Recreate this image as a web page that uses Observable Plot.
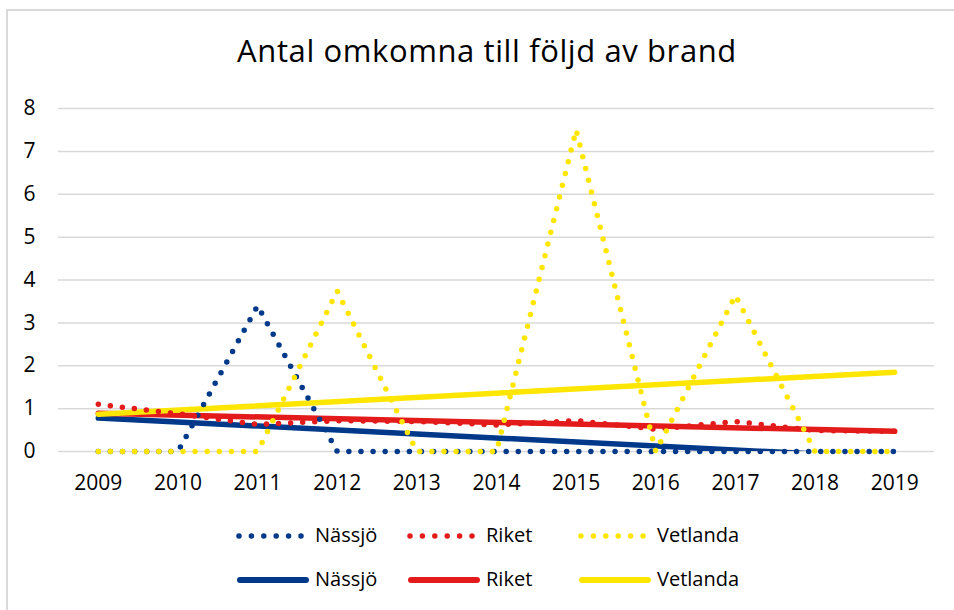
<!DOCTYPE html>
<html>
<head>
<meta charset="utf-8">
<script src="https://cdn.jsdelivr.net/npm/d3@7"></script>
<script src="https://cdn.jsdelivr.net/npm/@observablehq/plot@0.6"></script>
<style>
  html, body { margin: 0; padding: 0; background: #fff; }
  #page { position: relative; width: 954px; height: 610px; overflow: hidden; font-family: "Open Sans", sans-serif; }
  #frame { position: absolute; left: 6px; top: 9px; width: 980px; height: 640px; border: 2px solid #d9d9d9; box-sizing: border-box; }
  #title { position: absolute; left: 487px; top: 35px; transform: translateX(-50%); font-size: 31px; line-height: 1; letter-spacing: 0.6px; white-space: nowrap; color: #000; }
  #chart { position: absolute; left: 0; top: 90px; }
  #legend { position: absolute; left: 0; top: 0; }
</style>
</head>
<body>
<div id="page">
  <div id="frame"></div>
  <div id="title">Antal omkomna till följd av brand</div>
  <div id="chart"></div>
  <svg id="legend" width="954" height="610"></svg>
</div>
<script>
// ---- data ----
const years = [2009, 2010, 2011, 2012, 2013, 2014, 2015, 2016, 2017, 2018, 2019];
const nassjo = [0, 0, 3.4, 0, 0, 0, 0, 0, 0, 0, 0];
const riket = [1.1, 0.88, 0.63, 0.72, 0.7, 0.62, 0.72, 0.52, 0.7, 0.49, 0.47];
const vetlanda = [0, 0, 0, 3.74, 0, 0, 7.5, 0, 3.64, 0, 0];
const trendYears = [2009, 2019];
const nassjoTrend = [0.78, -0.15];
const riketTrend = [0.89, 0.47];
const vetlandaTrend = [0.87, 1.85];
const yTicks = [0, 1, 2, 3, 4, 5, 6, 7, 8];
const seriesNames = ["Nässjö", "Riket", "Vetlanda"];
const colors = ["#00388a", "#e41b1b", "#ffe600"];

const dotted = [nassjo, riket, vetlanda].map((vals, i) =>
  years.map((y, j) => ({ year: y, value: vals[j], series: seriesNames[i] })));
const trends = [nassjoTrend, riketTrend, vetlandaTrend].map((vals, i) =>
  trendYears.map((y, j) => ({ year: y, value: vals[j], series: seriesNames[i] })));

const marks = [
  Plot.gridY(yTicks, { stroke: "#d9d9d9", strokeOpacity: 1, strokeWidth: 1.5 }),
  Plot.axisX(years, { tickSize: 0, tickPadding: 24, tickFormat: d => String(d), fontSize: 21, fill: "#000", label: null }),
  Plot.axisY(yTicks, { tickSize: 0, tickPadding: 23, fontSize: 21, fill: "#000", label: null })
];
trends.forEach((t, i) => marks.push(Plot.line(t, {
  x: "year", y: "value", stroke: colors[i], strokeWidth: 5.5, strokeLinecap: "round", clip: true
})));
dotted.forEach((d, i) => marks.push(Plot.line(d, {
  x: "year", y: "value", stroke: colors[i], strokeWidth: 5.5, strokeDasharray: "0 12.1", strokeLinecap: "round"
})));

const chart = Plot.plot({
  width: 954,
  height: 406,
  marginLeft: 58,
  marginRight: 20,
  marginTop: 18,
  marginBottom: 45,
  x: { domain: [2008.5, 2019.5], label: null },
  y: { domain: [0, 8], label: null },
  style: { fontFamily: "Open Sans, sans-serif", fontSize: "21px", color: "#000", background: "transparent", overflow: "visible" },
  marks
});
document.getElementById("chart").appendChild(chart);

// ---- legend ----
const legend = d3.select("#legend");
const itemX = [239, 410, 581];
const rowY = [536, 580];
seriesNames.forEach((name, i) => {
  const x0 = itemX[i];
  legend.append("line").attr("x1", x0).attr("x2", x0 + 62).attr("y1", rowY[0]).attr("y2", rowY[0])
    .attr("stroke", colors[i]).attr("stroke-width", 5.5).attr("stroke-linecap", "round")
    .attr("stroke-dasharray", "0 12.4");
  legend.append("line").attr("x1", x0 + 1).attr("x2", x0 + 67).attr("y1", rowY[1]).attr("y2", rowY[1])
    .attr("stroke", colors[i]).attr("stroke-width", 6).attr("stroke-linecap", "round");
  rowY.forEach(ry => {
    legend.append("text").attr("x", x0 + 76).attr("y", ry + 6)
      .attr("font-family", "Open Sans, sans-serif").attr("font-size", 20).attr("fill", "#000")
      .text(name);
  });
});
</script>
</body>
</html>
